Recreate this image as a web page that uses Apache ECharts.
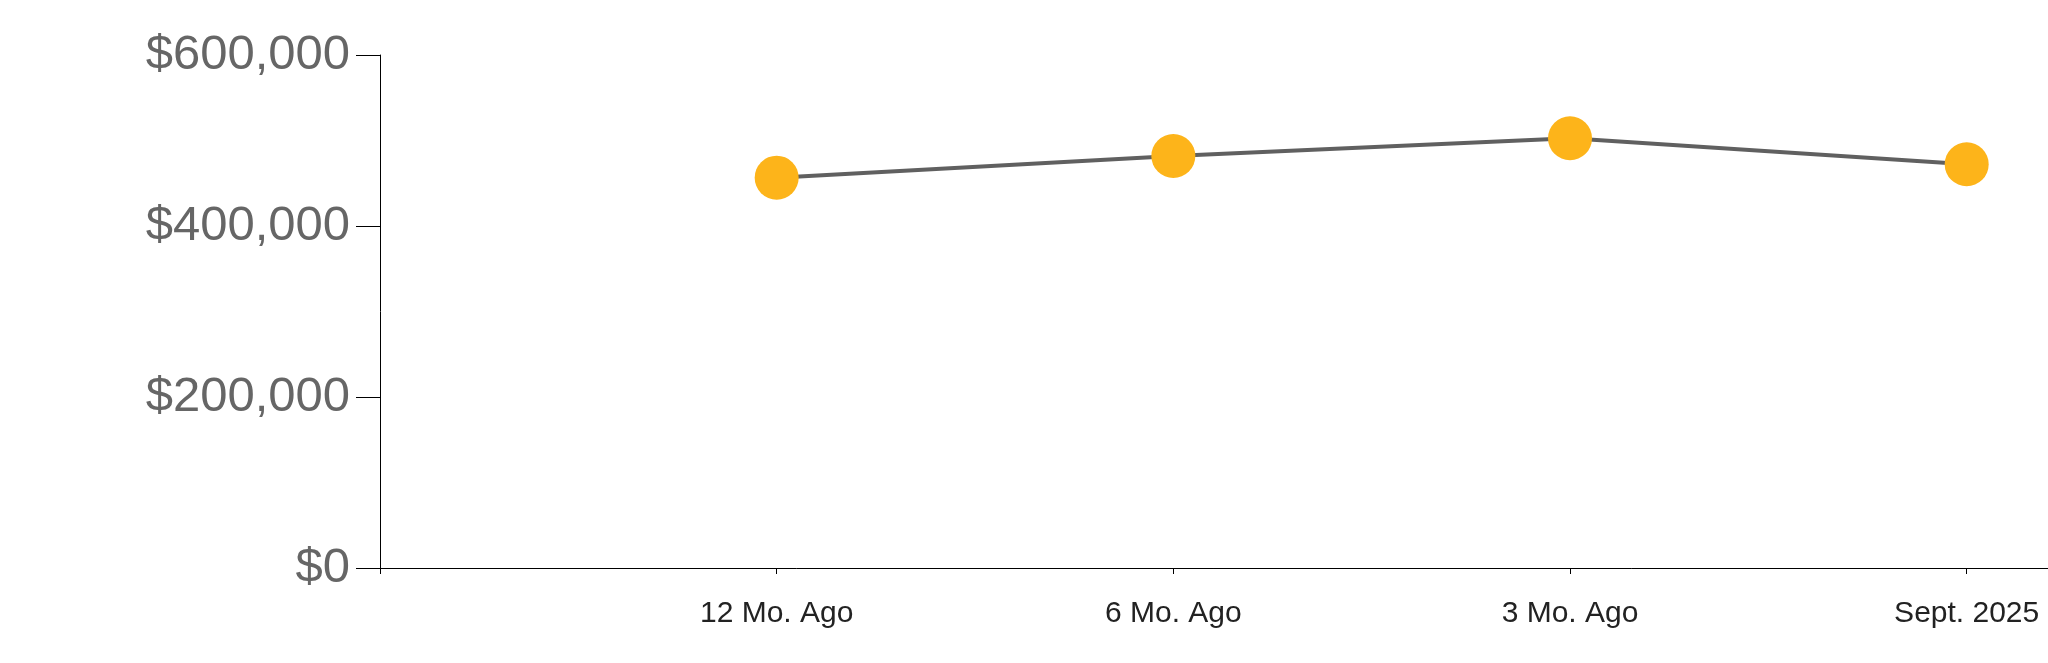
<!DOCTYPE html>
<html>
<head>
<meta charset="utf-8">
<script src="https://cdn.jsdelivr.net/npm/echarts@6/dist/echarts.min.js"></script>
<style>html,body{margin:0;padding:0;background:#fff}#c{width:2048px;height:663px}</style>
</head>
<body>
<div id="c"></div>
<script>
const categories = ["12 Mo. Ago", "6 Mo. Ago", "3 Mo. Ago", "Sept. 2025"];
const values = [456500, 481900, 502600, 472200];
const yTicks = [0, 200000, 400000, 600000];

const chart = echarts.init(document.getElementById('c'), null, {renderer: 'canvas'});
const data = values.map((v, i) => [i + 1, v]);
chart.setOption({
  animation: false,
  grid: {left: 380, right: 0, top: 55, bottom: 95, containLabel: false},
  xAxis: {
    type: 'value', min: 0, max: 4.205, interval: 1,
    axisLine: {show: true, lineStyle: {color: '#000', width: 1}},
    axisTick: {show: true, length: 6, lineStyle: {color: '#000'}},
    splitLine: {show: false},
    axisLabel: {
      show: true, margin: 31, fontSize: 30, color: '#222', fontFamily: 'Liberation Sans, Arial, sans-serif',
      showMaxLabel: false,
      formatter: v => (Number.isInteger(v) && v >= 1 && v <= categories.length) ? categories[v - 1] : ''
    }
  },
  yAxis: {
    type: 'value', min: yTicks[0], max: yTicks[yTicks.length - 1], interval: yTicks[1] - yTicks[0],
    axisLine: {show: true, lineStyle: {color: '#000', width: 1}},
    axisTick: {show: true, length: 24, lineStyle: {color: '#000'}},
    splitLine: {show: false},
    axisLabel: {
      margin: 30, fontSize: 49, color: '#666', fontFamily: 'Liberation Sans, Arial, sans-serif',
      formatter: v => '$' + v.toLocaleString('en-US')
    }
  },
  series: [{
    type: 'line', data: data,
    lineStyle: {color: '#606060', width: 4},
    symbol: 'circle', symbolSize: 44,
    itemStyle: {color: '#FDB41A', borderWidth: 0},
    z: 3
  }]
});
</script>
</body>
</html>
